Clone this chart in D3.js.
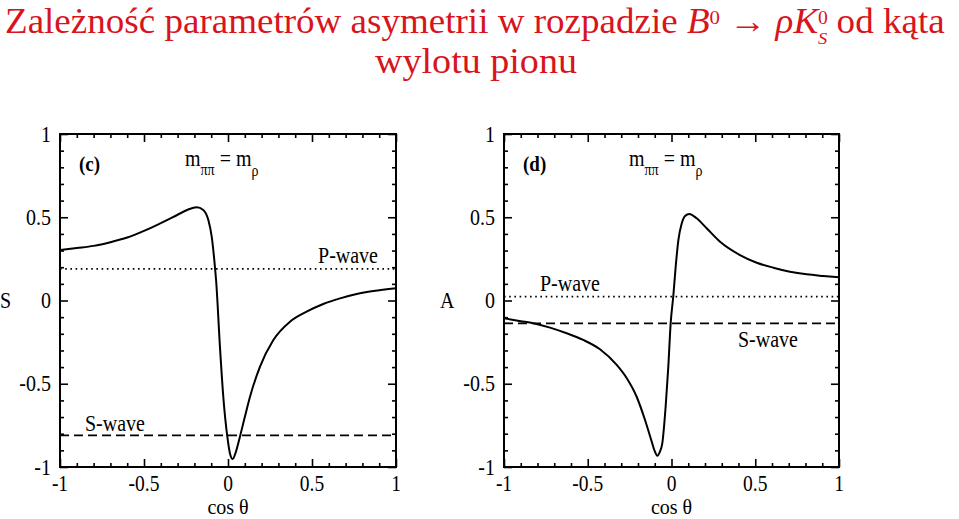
<!DOCTYPE html>
<html>
<head>
<meta charset="utf-8">
<script src="https://cdn.jsdelivr.net/npm/d3@7"></script>
<style>
  html, body { margin: 0; padding: 0; background: #fff; }
  svg { display: block; }
</style>
</head>
<body>
<div id="chart"></div>
<script>
// cos(theta) grid and S for panel (c)
const cosC = [-1.0, -0.9, -0.8, -0.7, -0.6, -0.5, -0.4, -0.3, -0.24, -0.186, -0.147, -0.117, -0.097, -0.077,
  -0.071, -0.048, -0.028, -0.004, 0.012, 0.028, 0.045, 0.071, 0.10, 0.131, 0.19, 0.27, 0.369, 0.468, 0.567,
  0.667, 0.766, 0.865, 1.0];
const sC = [0.303, 0.315, 0.328, 0.35, 0.378, 0.418, 0.465, 0.515, 0.545, 0.56, 0.544, 0.483, 0.383, 0.193,
  0.123, -0.277, -0.578, -0.818, -0.92, -0.952, -0.915, -0.818, -0.70, -0.578, -0.398, -0.237, -0.127, -0.067,
  -0.021, 0.013, 0.039, 0.057, 0.074];

// cos(theta) grid and A for panel (d)
const cosD = [-1.0, -0.9, -0.825, -0.725, -0.626, -0.527, -0.427, -0.327, -0.267, -0.208, -0.158, -0.118, -0.1,
  -0.085, -0.07, -0.055, -0.035, -0.019, -0.005, 0.011, 0.025, 0.041, 0.061, 0.081, 0.106, 0.15, 0.21, 0.29,
  0.409, 0.509, 0.608, 0.707, 0.807, 0.906, 1.0];
const aD = [-0.107, -0.124, -0.137, -0.163, -0.197, -0.237, -0.293, -0.387, -0.467, -0.578, -0.718, -0.848,
  -0.905, -0.932, -0.91, -0.858, -0.638, -0.397, -0.137, 0.03, 0.203, 0.363, 0.463, 0.508, 0.52, 0.494, 0.434,
  0.353, 0.273, 0.227, 0.197, 0.173, 0.157, 0.147, 0.139];

// pure P-wave / S-wave levels
const pWave = [0.19, 0.023];
const sWave = [-0.81, -0.137];

const tickVals = [-1, -0.5, 0, 0.5, 1];
const tickLabels = ['-1', '-0.5', '0', '0.5', '1'];
const minorVals = d3.range(-9, 10).map(d => d / 10).filter(d => Math.abs(d * 2 % 1) > 1e-6);

const W = 959, H = 519;
const SY = 1.15; // text in the reference is a little stretched vertically
const serif = '"Liberation Serif", "Times New Roman", serif';

const svg = d3.select('#chart').append('svg')
  .attr('width', W).attr('height', H)
  .style('font-family', serif);

function label(g, x, y, str, size, anchor, sy) {
  return g.append('text')
    .attr('transform', `translate(${x},${y}) scale(1,${sy || SY})`)
    .attr('text-anchor', anchor || 'start')
    .style('font-family', serif)
    .style('font-size', size + 'px')
    .text(str);
}

// Title
const red = '#d8141d';
const t1 = svg.append('text').attr('fill', red).style('font-size', '32px');
t1.append('tspan').text('Zależność parametrów asymetrii w rozpadzie ');
t1.append('tspan').style('font-style', 'italic').text('B');
t1.append('tspan').style('font-size', '18px').attr('dy', -8).text('0');
t1.append('tspan').attr('dy', 8).text(' → ');
t1.append('tspan').style('font-style', 'italic').text('ρK');
t1.append('tspan').style('font-size', '17px').attr('dy', -8).text('0');
t1.append('tspan').style('font-size', '16px').style('font-style', 'italic').attr('dx', -8.5).attr('dy', 18).text('S');
t1.append('tspan').attr('dy', -10).text(' od kąta');
const w1 = t1.node().getComputedTextLength();
t1.attr('transform', `translate(5,33) scale(${950 / w1},1.1)`);

const t2 = svg.append('text').attr('fill', red).style('font-size', '32px').attr('text-anchor', 'middle')
  .text('wylotu pionu');
const w2 = t2.node().getComputedTextLength();
t2.attr('transform', `translate(476,73) scale(${202 / w2},1.1)`);

// panel layout
const panels = [
  { x0: 60, x1: 396, tag: '(c)', ylab: 'S', ylabX: 0, xs: cosC, ys: sC,
    pPos: [378, 263, 'end'], sPos: [85, 431, 'start'] },
  { x0: 504, x1: 839, tag: '(d)', ylab: 'A', ylabX: 440, xs: cosD, ys: aD,
    pPos: [540, 291, 'start'], sPos: [738, 347, 'start'] }
];
const yTop = 134, yBot = 467;

panels.forEach((p, k) => {
  const x = d3.scaleLinear().domain([-1, 1]).range([p.x0, p.x1]);
  const y = d3.scaleLinear().domain([-1, 1]).range([yBot, yTop]);
  const g = svg.append('g');

  // reference lines
  g.append('line')
    .attr('x1', x(-1)).attr('x2', x(1)).attr('y1', y(pWave[k])).attr('y2', y(pWave[k]))
    .attr('stroke', '#000').attr('stroke-width', 1.6).attr('stroke-dasharray', '1.6,3.6');
  g.append('line')
    .attr('x1', x(-1)).attr('x2', x(1)).attr('y1', y(sWave[k])).attr('y2', y(sWave[k]))
    .attr('stroke', '#000').attr('stroke-width', 1.8).attr('stroke-dasharray', '9,5');

  // curve
  const line = d3.line()
    .x(d => x(d[0]))
    .y(d => y(d[1]))
    .curve(d3.curveMonotoneX);
  g.append('path')
    .datum(p.xs.map((c, i) => [c, p.ys[i]]))
    .attr('fill', 'none')
    .attr('stroke', '#000')
    .attr('stroke-width', 2)
    .attr('d', line);

  // ticks on all four sides, pointing inwards
  const axes = [
    [d3.axisBottom(x), `translate(0,${yBot})`],
    [d3.axisTop(x), `translate(0,${yTop})`],
    [d3.axisLeft(y), `translate(${p.x0},0)`],
    [d3.axisRight(y), `translate(${p.x1},0)`]
  ];
  axes.forEach(([ax, tr]) => {
    [[tickVals, 8], [minorVals, 4]].forEach(([vals, len]) => {
      const a = g.append('g').attr('transform', tr)
        .call(ax.tickValues(vals).tickSize(-len).tickFormat(''));
      a.select('.domain').remove();
      a.selectAll('line').attr('stroke-width', 1.6);
    });
  });

  // frame
  g.append('rect')
    .attr('x', p.x0).attr('y', yTop)
    .attr('width', p.x1 - p.x0).attr('height', yBot - yTop)
    .attr('fill', 'none').attr('stroke', '#000').attr('stroke-width', 2);

  // tick labels
  tickVals.forEach((v, i) => {
    label(g, p.x0 - 9, y(v) + 7.5, tickLabels[i], 20, 'end');
    label(g, x(v), 491, tickLabels[i], 19.5, 'middle');
  });

  // axis titles
  label(g, (p.x0 + p.x1) / 2, 514, 'cos θ', 20, 'middle', 1.0);
  label(g, p.ylabX, 308, p.ylab, 20, 'start');

  // annotations
  label(g, p.x0 + 19, 171, p.tag, 19, 'start').style('font-weight', 'bold');
  const m = label(g, p.x0 + 125, 166, '', 20, 'start');
  m.append('tspan').text('m');
  m.append('tspan').style('font-size', '14px').attr('dy', 7.5).text('ππ');
  m.append('tspan').attr('dy', -7.5).text(' = m');
  m.append('tspan').style('font-size', '14px').attr('dy', 8.5).text('ρ');

  label(g, p.pPos[0], p.pPos[1], 'P-wave', 20, p.pPos[2]);
  label(g, p.sPos[0], p.sPos[1], 'S-wave', 20, p.sPos[2]);
});
</script>
</body>
</html>
